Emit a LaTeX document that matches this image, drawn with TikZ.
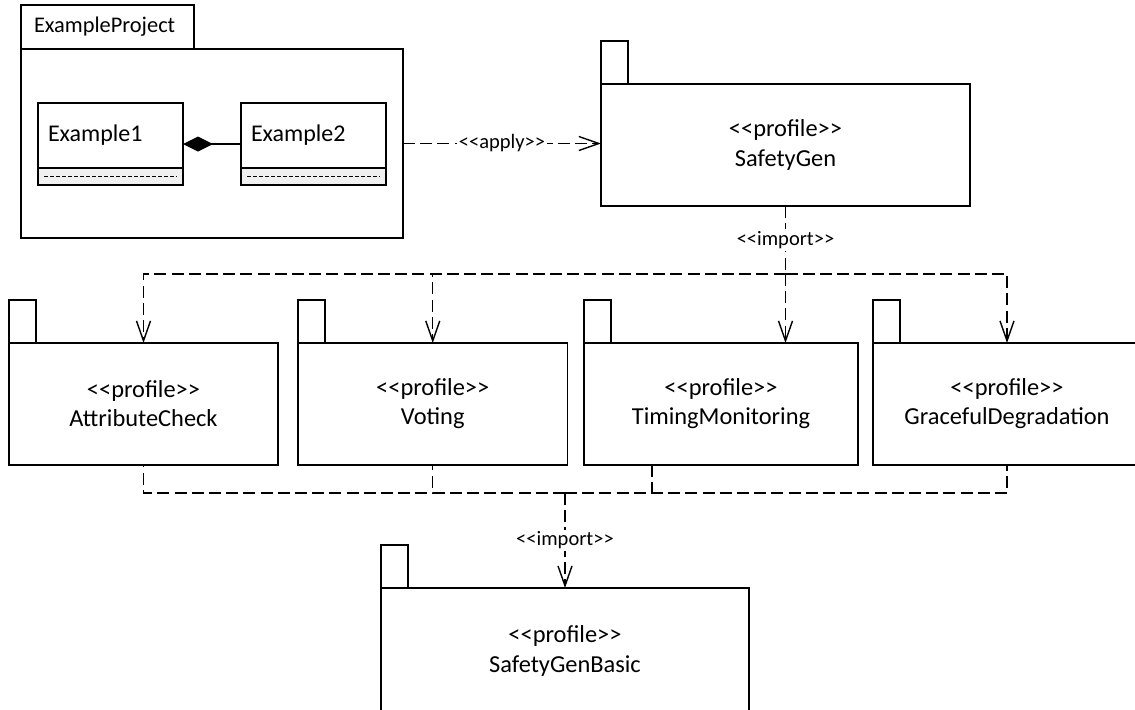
\documentclass[tikz,border=0pt]{standalone}
\usepackage{fontspec}
\setmainfont{Carlito}[Ligatures=TeXOff]
\usetikzlibrary{arrows.meta,calc}

\begin{document}
\begin{tikzpicture}[x=0.5pt,y=-0.5pt,line width=0.7pt,
  pkgbody/.style={draw, rectangle, anchor=north west, inner sep=0pt, outer sep=0pt,
    align=center, font=\fontsize{12.2}{14.6}\selectfont},
  pkgtab/.style={draw, rectangle, anchor=south west, inner sep=0pt, outer sep=0pt,
    minimum width=13.5pt, minimum height=21.5pt},
  classbox/.style={draw, rectangle, anchor=north west, outer sep=0pt, inner ysep=0pt,
    inner xsep=5pt, text width=62.5pt, align=left, minimum height=32.5pt,
    font=\fontsize{12}{14}\selectfont},
  compart/.style={draw, rectangle, anchor=north west, outer sep=0pt, inner sep=0pt,
    fill=gray!12, minimum width=72.5pt, minimum height=8.5pt},
  cmpdash/.style={line width=0.45pt, dash pattern=on 2pt off 1pt},
  depline/.style={dash pattern=on 6pt off 2.6pt},
  dep/.style={depline, -{Straight Barb[length=10pt,width=7pt]}},
  lbl/.style={fill=white, inner sep=1pt, font=\fontsize{10.25}{12}\selectfont}
]
\useasboundingbox (0,0) rectangle (1135,709);

% ExampleProject package with its two classes
\node[draw, rectangle, anchor=north west, inner sep=0pt, outer sep=0pt,
  minimum width=191pt, minimum height=94.5pt] (ep) at (21,49) {};
\node[draw, rectangle, anchor=south west, outer sep=0pt, inner ysep=0pt, inner xsep=6.5pt,
  text width=73.5pt, align=left, minimum height=22pt,
  font=\fontsize{11.2}{13}\selectfont] (eptab) at (ep.north west) {ExampleProject};

\node[classbox] (e1) at (38,103) {Example1};
\node[compart] (e1c) at (e1.south west) {};
\draw[cmpdash] ([xshift=3pt]e1c.west) -- ([xshift=-3pt]e1c.east);

\node[classbox] (e2) at (241,103) {Example2};
\node[compart] (e2c) at (e2.south west) {};
\draw[cmpdash] ([xshift=3pt]e2c.west) -- ([xshift=-3pt]e2c.east);

\coordinate (e1r) at ($(e1.north east)!0.5!(e1c.south east)$);
\draw[{Diamond[length=15pt,width=7.5pt]}-] (e1r) -- (e1r -| e2.west);

% profile packages
\node[pkgbody, minimum width=184.5pt, minimum height=61pt] (sg) at (601,84)
  {<<profile>>\\SafetyGen};
\node[pkgtab] (sgtab) at (sg.north west) {};

\node[pkgbody, minimum width=134.5pt, minimum height=61pt] (ac) at (9,343)
  {<<profile>>\\AttributeCheck};
\node[pkgtab] (actab) at (ac.north west) {};

\node[pkgbody, minimum width=134.75pt, minimum height=61pt] (vt) at (298,343)
  {<<profile>>\\Voting};
\node[pkgtab] (vttab) at (vt.north west) {};

\node[pkgbody, minimum width=137pt, minimum height=61pt] (tm) at (584,343)
  {<<profile>>\\TimingMonitoring};
\node[pkgtab] (tmtab) at (tm.north west) {};

\node[pkgbody, minimum width=134pt, minimum height=61pt] (gd) at (873,343)
  {<<profile>>\\GracefulDegradation};
\node[pkgtab] (gdtab) at (gd.north west) {};

\node[pkgbody, minimum width=184pt, minimum height=63pt] (sgb) at (381,588)
  {<<profile>>\\SafetyGenBasic};
\node[pkgtab] (sgbtab) at (sgb.north west) {};

% apply dependency
\draw[dep] (ep.east) -- (ep.east -| sg.west) node[midway, lbl] {<<apply>>};

% imports from SafetyGen
\coordinate (jt) at (sg.south |- 0,274);
\draw[depline] (sg.south) -- (jt) node[midway, lbl] {<<import>>};
\draw[dep] (jt) -| (ac.north);
\draw[dep] (jt) -| (vt.north);
\draw[dep] (jt) -- (jt |- tm.north);
\draw[dep] (jt) -| (gd.north);

% imports into SafetyGenBasic
\coordinate (jb) at (sgb.north |- 0,493);
\draw[depline] (jb) -| (ac.south);
\draw[depline] (jb) -| (vt.south);
\draw[depline] (jb) -| ([xshift=-34.5pt]tm.south);
\draw[depline] (jb) -| (gd.south);
\draw[dep] (jb) -- (sgb.north) node[midway, lbl] {<<import>>};
\end{tikzpicture}
\end{document}
